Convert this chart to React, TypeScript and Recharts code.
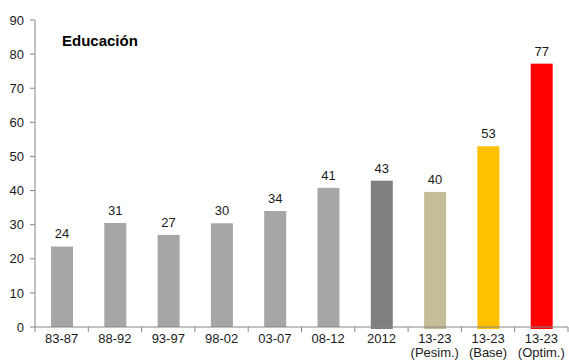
import { BarChart, Bar, XAxis, YAxis, Cell, LabelList } from 'recharts';

const categories = ['83-87', '88-92', '93-97', '98-02', '03-07', '08-12', '2012', '13-23\n(Pesim.)', '13-23\n(Base)', '13-23\n(Optim.)'];
const values = [23.6, 30.5, 27, 30.4, 34, 40.8, 42.9, 39.6, 53, 77.2];
const barColors = ['#a6a6a6', '#a6a6a6', '#a6a6a6', '#a6a6a6', '#a6a6a6', '#a6a6a6', '#808080', '#c4bd97', '#ffc000', '#ff0000'];
const yTicks = [0, 10, 20, 30, 40, 50, 60, 70, 80, 90];

const data = categories.map((c, i) => ({ name: c, value: values[i] }));

const W = 569;
const H = 363;
const LEFT = 35;
const RIGHT = 1;
const BAND = (W - LEFT - RIGHT) / categories.length;
const axisColor = '#868686';
const font = 'Liberation Sans, Arial, sans-serif';

function CategoryTick(props: any) {
    const { x, payload, index } = props;
    const lines = String(payload.value).split('\n');
    const axisY = 327;
    return (
        <g>
            <line x1={x - BAND / 2} x2={x - BAND / 2} y1={axisY} y2={axisY + 5} stroke={axisColor} />
            {index === categories.length - 1 && (
                <line x1={x + BAND / 2} x2={x + BAND / 2} y1={axisY} y2={axisY + 5} stroke={axisColor} />
            )}
            <text x={x} y={axisY + 16} textAnchor="middle" fontSize={13} fill="#1a1a1a" fontFamily={font}>
                {lines.map((l, i) => (
                    <tspan key={i} x={x} dy={i === 0 ? 0 : 14}>{l}</tspan>
                ))}
            </text>
        </g>
    );
}

function BarShape(props: any) {
    const { x, y, width, height, fill, index } = props;
    const extra = index >= 6 ? 2 : 0;
    return <rect x={x} y={y} width={width} height={height + extra} fill={fill} />;
}

export default function App() {
    return (
        <div style={{ position: 'fixed', top: 0, left: 0, width: W, height: H, background: '#fff', fontFamily: font }}>
            <div style={{ position: 'absolute', left: 62, top: 32, fontSize: 15, fontWeight: 'bold', color: '#000' }}>Educación</div>
            <BarChart width={W} height={H} data={data} margin={{ top: 20, right: RIGHT, left: 0, bottom: 0 }}>
                <XAxis
                    dataKey="name"
                    height={36}
                    interval={0}
                    stroke={axisColor}
                    tickLine={false}
                    tick={<CategoryTick />}
                />
                <YAxis
                    width={LEFT}
                    domain={[0, 90]}
                    ticks={yTicks}
                    interval={0}
                    stroke={axisColor}
                    tickSize={5}
                    tickMargin={6}
                    tick={{ fill: '#1a1a1a', fontSize: 13, fontFamily: font }}
                />
                <Bar dataKey="value" barSize={22} isAnimationActive={false} shape={<BarShape />}>
                    {data.map((d, i) => (
                        <Cell key={`cell-${i}`} fill={barColors[i]} />
                    ))}
                    <LabelList
                        dataKey="value"
                        position="top"
                        offset={8}
                        fontSize={13}
                        fill="#1a1a1a"
                        fontFamily={font}
                        formatter={(v: any) => Math.round(Number(v))}
                    />
                </Bar>
            </BarChart>
        </div>
    );
}
